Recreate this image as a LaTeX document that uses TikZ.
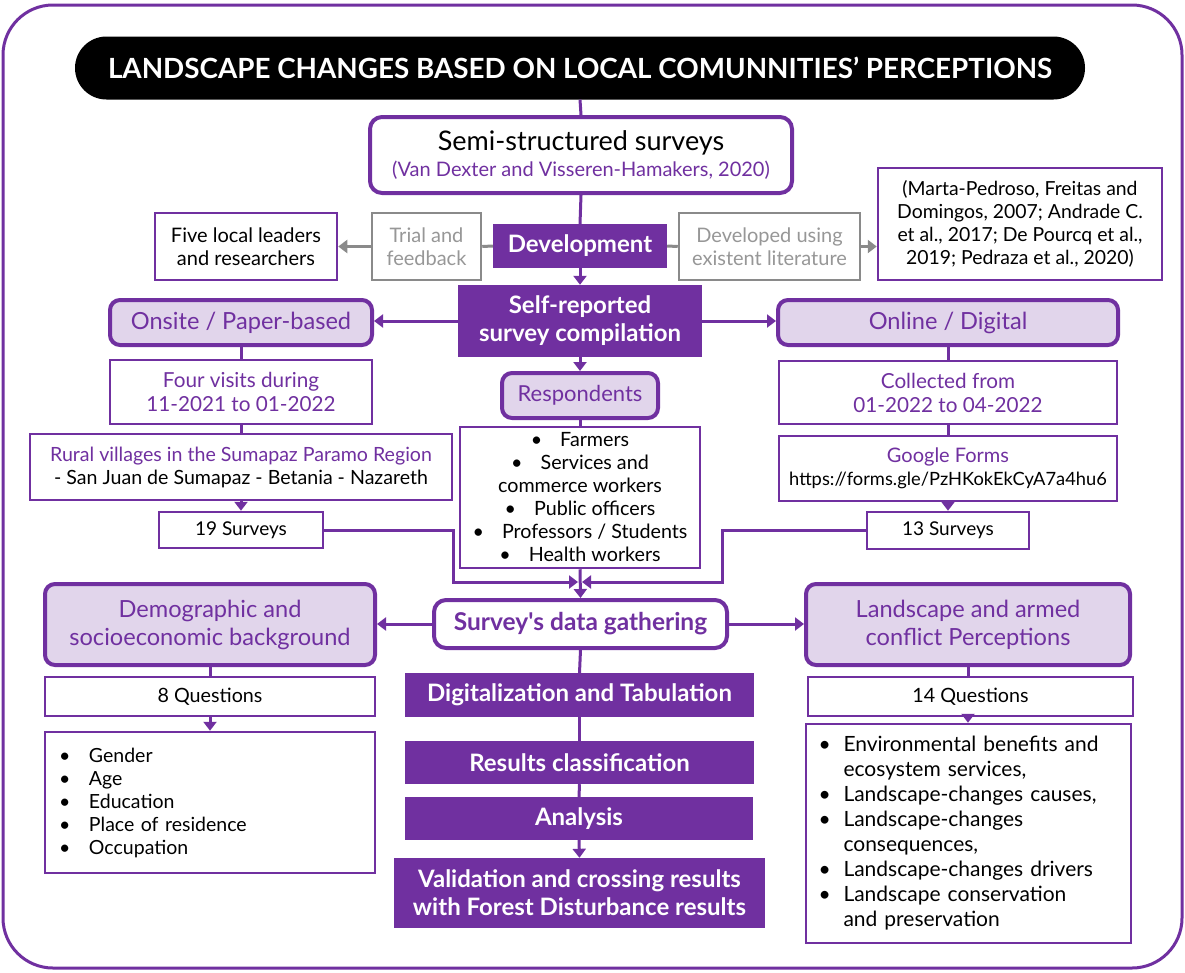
\documentclass[tikz,border=0pt]{standalone}
\usepackage{fontspec}
\setmainfont{Lato}
\usetikzlibrary{arrows.meta}
\definecolor{purp}{HTML}{7030A0}
\definecolor{lilac}{HTML}{E1D5EB}
\definecolor{greyline}{HTML}{8A8A8A}
\definecolor{greytext}{HTML}{979797}
\newcommand{\bul}[1][30pt]{\makebox[#1][l]{\textbullet}}
\newcommand{\cbul}{\textbullet\hspace{18pt}}

\begin{document}
\begin{tikzpicture}[x=1pt,y=-1pt,
    every node/.style={inner sep=0pt,align=center,font=\fontsize{20}{23}\selectfont},
    frame/.style={draw=purp,line width=3pt,rounded corners=50pt},
    hdr/.style={fill=black,text=white,rounded corners=31.5pt,font=\fontsize{27.8}{30}\selectfont\bfseries},
    rbox/.style={draw=purp,line width=4pt,fill=white,rounded corners=12pt},
    lbox/.style={draw=purp,line width=4pt,fill=lilac,rounded corners=10pt,text=purp,font=\fontsize{23.6}{28}\selectfont},
    fbox/.style={fill=purp,text=white,font=\fontsize{24}{28}\selectfont\bfseries},
    pbox/.style={draw=purp,line width=2.5pt,fill=white},
    gbox/.style={draw=greyline,line width=2.5pt,fill=white,text=greytext},
    ln/.style={draw=purp,line width=3pt},
    arr/.style={ln,-{Triangle[width=13pt,length=9pt]}},
    gln/.style={draw=greyline,line width=3pt},
    garr/.style={gln,-{Triangle[width=13pt,length=9pt]}}]
  \useasboundingbox (0,0) rectangle (1185,972);
  \draw[frame] (3,5) rectangle (1182,968);

  \node[hdr,minimum width=1010pt,minimum height=63pt] (title) at (580,68)
    {LANDSCAPE CHANGES BASED ON LOCAL COMUNNITIES’ PERCEPTIONS};
  \node[rbox,minimum width=422pt,minimum height=76pt,font=\fontsize{20}{26}\selectfont] (semi) at (581,155)
    {{\fontsize{27}{26}\selectfont Semi-structured surveys}\\{\color{purp}(Van Dexter and Visseren-Hamakers, 2020)}};
  \node[fbox,minimum width=174pt,minimum height=44pt] (dev) at (580,246) {Development};
  \node[gbox,minimum width=109pt,minimum height=67pt] (trial) at (426.5,246.5) {Trial and\\feedback};
  \node[pbox,minimum width=182pt,minimum height=67pt] (five) at (246,246.5) {Five local leaders\\and researchers};
  \node[gbox,minimum width=181pt,minimum height=67pt] (devlit) at (769.5,246.5) {Developed using\\existent literature};
  \node[pbox,minimum width=284pt,minimum height=112pt,font=\fontsize{19.4}{23}\selectfont] (cite) at (1020,224)
    {(Marta-Pedroso, Freitas and\\Domingos, 2007; Andrade C.\\et al., 2017; De Pourcq et al.,\\2019; Pedraza et al., 2020)};
  \node[fbox,minimum width=244pt,minimum height=72pt] (self) at (580,321) {Self-reported\\survey compilation};

  \node[lbox,minimum width=262pt,minimum height=45pt] (onsite) at (241,322.5) {Onsite / Paper-based};
  \node[pbox,minimum width=262pt,minimum height=64pt,text=purp,font=\fontsize{20.7}{24}\selectfont] (visits) at (241,392)
    {Four visits during\\11-2021 to 01-2022};
  \node[pbox,minimum width=422pt,minimum height=66pt,font=\fontsize{19.6}{23}\selectfont] (rural) at (241,467)
    {{\color{purp}Rural villages in the Sumapaz Paramo Region}\\- San Juan de Sumapaz - Betania - Nazareth};
  \node[pbox,minimum width=164pt,minimum height=36pt,font=\fontsize{19}{23}\selectfont] (s19) at (241,530) {19 Surveys};

  \node[lbox,minimum width=340pt,minimum height=45pt] (online) at (948,322.5) {Online / Digital};
  \node[pbox,minimum width=338pt,minimum height=63pt,text=purp,font=\fontsize{20.7}{24}\selectfont] (collected) at (948,392.5)
    {Collected from\\01-2022 to 04-2022};
  \node[pbox,minimum width=338pt,minimum height=65pt] (gforms) at (948,468.5)
    {{\color{purp}Google Forms}\\{\fontsize{18.3}{20}\selectfont https://forms.gle/PzHKokEkCyA7a4hu6}};
  \node[pbox,minimum width=162pt,minimum height=37pt,font=\fontsize{19}{23}\selectfont] (s13) at (948,530.5) {13 Surveys};

  \node[lbox,minimum width=156pt,minimum height=45pt,font=\fontsize{22}{24}\selectfont] (resp) at (580,395.5) {Respondents};
  \node[pbox,minimum width=240pt,minimum height=141pt,font=\fontsize{19.7}{23}\selectfont] (resplist) at (580,497.5)
    {\cbul Farmers\\\cbul Services and\\commerce workers\\\cbul Public officers\\\cbul Professors / Students\\\cbul Health workers};

  \node[rbox,minimum width=293pt,minimum height=48pt,text=purp,font=\fontsize{24.5}{26}\selectfont\bfseries] (gather) at (580.5,624)
    {Survey\textquotesingle s data gathering};
  \node[lbox,minimum width=330pt,minimum height=81pt] (demo) at (210,624.5) {Demographic and\\socioeconomic background};
  \node[lbox,minimum width=324pt,minimum height=81pt] (land) at (968,624.5) {Landscape and armed\\conflict Perceptions};

  \node[pbox,minimum width=330pt,minimum height=39pt,font=\fontsize{19.7}{23}\selectfont] (q8) at (210,696.5) {8 Questions};
  \node[pbox,minimum width=330pt,minimum height=141pt,text width=302pt,align=left,font=\fontsize{19.5}{23}\selectfont] (demolist) at (210,802.5)
    {\bul Gender\\\bul Age\\\bul Education\\\bul Place of residence\\\bul Occupation};
  \node[pbox,minimum width=325pt,minimum height=39pt,font=\fontsize{19.7}{23}\selectfont] (q14) at (970.5,696.5) {14 Questions};
  \node[pbox,minimum width=325pt,minimum height=219pt,text width=300pt,align=left,font=\fontsize{21}{25}\selectfont] (landlist) at (968.5,833.5)
    {\bul[25pt]Environmental benefits and\\\hspace*{25pt}ecosystem services,\\\bul[25pt]Landscape-changes causes,\\\bul[25pt]Landscape-changes\\\hspace*{25pt}consequences,\\\bul[25pt]Landscape-changes drivers\\\bul[25pt]Landscape conservation\\\hspace*{25pt}and preservation};

  \node[fbox,minimum width=349pt,minimum height=44pt] (digit) at (579.5,695) {Digitalization and Tabulation};
  \node[fbox,minimum width=349pt,minimum height=43pt] (classif) at (579.5,762.5) {Results classification};
  \node[fbox,minimum width=348pt,minimum height=43pt] (analysis) at (579,818.5) {Analysis};
  \node[fbox,minimum width=371pt,minimum height=70pt] (valid) at (579.5,893) {Validation and crossing results\\with Forest Disturbance results};

  \coordinate (merge) at (580,582);
  \draw[ln] (title.south) -- (semi.north);
  \draw[ln] (semi.south) -- (dev.north);
  \draw[gln] (dev.west) -- (trial.east);
  \draw[garr] (trial.west) -- (five.east);
  \draw[gln] (dev.east) -- (devlit.west);
  \draw[garr] (devlit.east) -- (devlit.east -| cite.west);
  \draw[arr] (dev.south) -- (self.north);
  \draw[arr] (self.west) -- (self.west -| onsite.east);
  \draw[arr] (self.east) -- (self.east -| online.west);
  \draw[arr] (self.south) -- (resp.north);
  \draw[ln] (resp.south) -- (resplist.north);
  \draw[ln] (onsite.south) -- (visits.north);
  \draw[ln] (visits.south) -- (rural.north);
  \draw[arr] (rural.south) -- (s19.north);
  \draw[ln] (online.south) -- (collected.north);
  \draw[ln] (collected.south) -- (gforms.north);
  \draw[arr] (gforms.south) -- (s13.north);
  \draw[arr,shorten >=2pt] (s19.east) -- ++(129,0) |- (merge);
  \draw[arr,shorten >=2pt] (s13.west) -- ++(-143,0) |- (merge);
  \draw[arr] (resplist.south) -- (gather.north);
  \draw[arr] (gather.west) -- (gather.west -| demo.east);
  \draw[arr] (gather.east) -- (gather.east -| land.west);
  \draw[ln] (demo.south) -- (q8.north);
  \draw[arr] (q8.south) -- (demolist.north);
  \draw[ln] (land.south) -- (land.south |- q14.north);
  \draw[arr] (land.south |- q14.south) -- (land.south |- landlist.north);
  \draw[ln] (gather.south) -- (digit.north);
  \draw[ln] (digit.south) -- (classif.north);
  \draw[ln] (classif.south) -- (analysis.north);
  \draw[arr] (analysis.south) -- (valid.north);
\end{tikzpicture}
\end{document}
